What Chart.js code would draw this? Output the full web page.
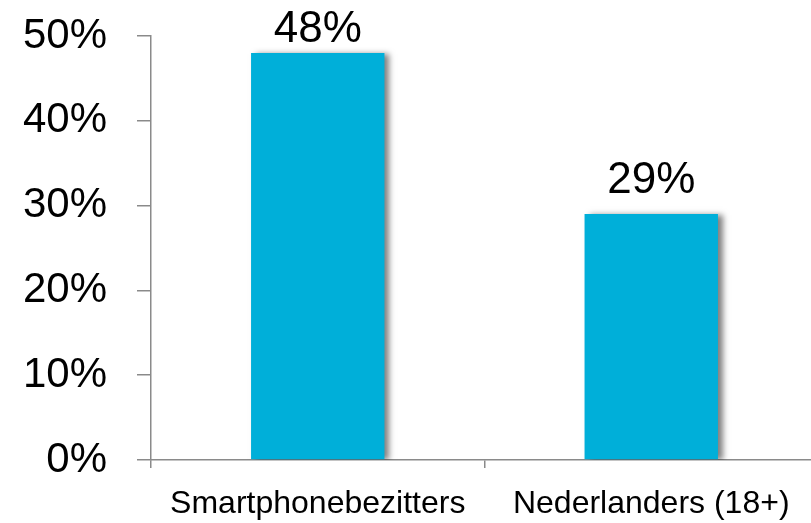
<!DOCTYPE html>
<html>
<head>
<meta charset="utf-8">
<script src="https://cdn.jsdelivr.net/npm/chart.js@4.4.0/dist/chart.umd.min.js"></script>
<style>
  html, body { margin: 0; padding: 0; background: #fff; overflow: hidden; }
  #wrap { position: absolute; left: 0; top: 0; width: 818px; height: 523px; }
</style>
</head>
<body>
<div id="wrap"><canvas id="c"></canvas></div>
<script>
const categories = ['Smartphonebezitters', 'Nederlanders (18+)'];
const values = [48, 29];
const yTicks = [0, 10, 20, 30, 40, 50];

const FONT = '"Liberation Sans", Arial, sans-serif';
const AXIS = '#8a8a8a';

const shadowPlugin = {
  id: 'barShadow',
  beforeDatasetsDraw(chart) {
    const ctx = chart.ctx;
    ctx.save();
    ctx.shadowColor = 'rgba(0,0,0,0.5)';
    ctx.shadowOffsetX = 5;
    ctx.shadowOffsetY = 1;
    ctx.shadowBlur = 6;
  },
  afterDatasetsDraw(chart) {
    chart.ctx.restore();
  }
};

const labelPlugin = {
  id: 'valueLabels',
  afterDatasetsDraw(chart) {
    const ctx = chart.ctx;
    const meta = chart.getDatasetMeta(0);
    ctx.save();
    ctx.font = '44px ' + FONT;
    ctx.fillStyle = '#000';
    ctx.textAlign = 'center';
    ctx.textBaseline = 'alphabetic';
    meta.data.forEach((bar, i) => {
      const y = Math.max(bar.y - 21, 42);
      ctx.fillText(values[i] + '%', bar.x, y);
    });
    ctx.restore();
  }
};

new Chart(document.getElementById('c'), {
  type: 'bar',
  data: {
    labels: categories,
    datasets: [{
      data: values,
      backgroundColor: '#00AFD9',
      borderWidth: 0,
      categoryPercentage: 0.8,
      barPercentage: 0.5
    }]
  },
  options: {
    responsive: true,
    maintainAspectRatio: false,
    animation: false,
    devicePixelRatio: 1,
    layout: { padding: { top: 36, left: 0, right: 0, bottom: 0 } },
    plugins: { legend: { display: false }, tooltip: { enabled: false } },
    scales: {
      x: {
        grid: { display: true, drawOnChartArea: false, drawTicks: true, tickLength: 8, offset: true, color: AXIS, lineWidth: 1.5 },
        border: { display: true, color: AXIS, width: 1.5 },
        ticks: { color: '#000', font: { family: FONT, size: 32 }, padding: 17, maxRotation: 0 },
        afterFit(s) { s.height = 63; s.paddingLeft = 0; s.paddingRight = 0; }
      },
      y: {
        min: 0, max: 50,
        afterBuildTicks(s) { s.ticks = yTicks.map(v => ({ value: v })); },
        grid: { display: true, drawOnChartArea: false, drawTicks: true, tickLength: 14, color: AXIS, lineWidth: 1.5 },
        border: { display: true, color: AXIS, width: 1.5 },
        ticks: { color: '#000', font: { family: FONT, size: 42 }, padding: 30, callback: v => v + '%' },
        afterFit(s) { s.width = 151; s.paddingTop = 0; s.paddingBottom = 0; }
      }
    }
  },
  plugins: [shadowPlugin, labelPlugin]
});
</script>
</body>
</html>
